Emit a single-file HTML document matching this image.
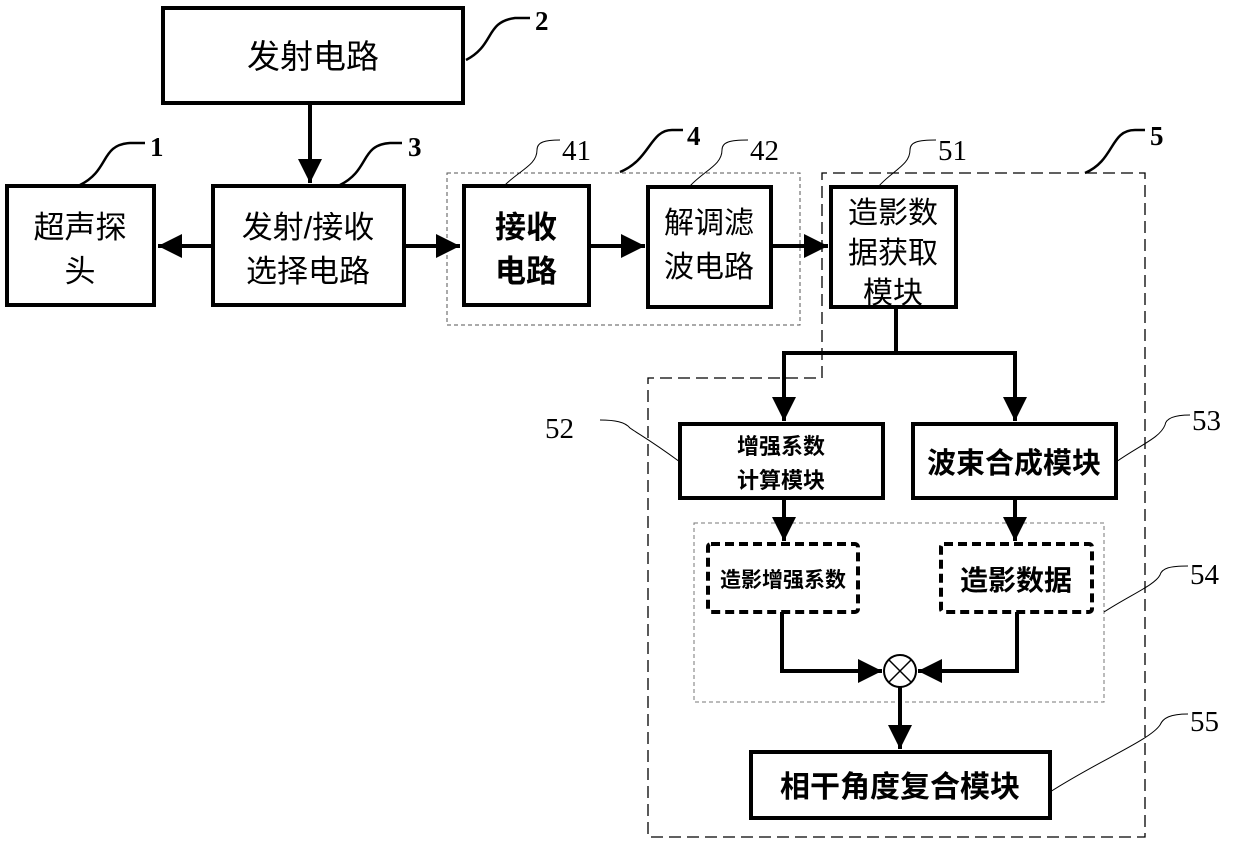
<!DOCTYPE html>
<html><head><meta charset="utf-8"><style>
html,body{margin:0;padding:0;background:#fff}
svg{display:block}
.t{font-family:"Liberation Sans","Noto Sans CJK SC",sans-serif;fill:#000;text-anchor:middle}
.n{font-family:"Liberation Serif",serif;fill:#000}
</style></head><body>
<svg width="1240" height="848" viewBox="0 0 1240 848" xmlns="http://www.w3.org/2000/svg">
<defs>
<marker id="a" viewBox="0 0 10 10" refX="10" refY="5" markerWidth="6" markerHeight="6" orient="auto" markerUnits="strokeWidth"><path d="M0,0L10,5L0,10z" fill="#000"/></marker>
</defs>
<g fill="none" stroke="#000">
<rect x="447" y="173" width="353" height="152" stroke-width="1" stroke-dasharray="4,3" stroke="#555"/>
<path d="M822,378V173H1145V837H648V378H822" stroke-width="1.3" stroke-dasharray="12,6"/>
<rect x="694" y="523" width="410" height="179" stroke-width="1" stroke-dasharray="4,3" stroke="#777"/>
<g stroke-width="4">
<rect x="163" y="8" width="300" height="95"/>
<rect x="7" y="186" width="147" height="119"/>
<rect x="213" y="186" width="191" height="119"/>
<rect x="464" y="186" width="125" height="119"/>
<rect x="648" y="187" width="123" height="120"/>
<rect x="831" y="187" width="125" height="120"/>
<rect x="680" y="424" width="203" height="74"/>
<rect x="913" y="424" width="203" height="74"/>
<rect x="751" y="752" width="299" height="66"/>
</g>
<rect x="708" y="544" width="150" height="68" stroke-width="4" stroke-dasharray="9,5" rx="3"/>
<rect x="941" y="544" width="151" height="68" stroke-width="4" stroke-dasharray="9,5" rx="3"/>
<circle cx="900" cy="671" r="16" stroke-width="2"/>
<path d="M889,660L911,682M911,660L889,682" stroke-width="1.5"/>
<g stroke-width="4">
<path d="M310,103V183" marker-end="url(#a)"/>
<path d="M213,246H158" marker-end="url(#a)"/>
<path d="M404,246H460" marker-end="url(#a)"/>
<path d="M589,246H645" marker-end="url(#a)"/>
<path d="M771,246H828" marker-end="url(#a)"/>
<path d="M896,307V353"/>
<path d="M782,353H1015"/>
<path d="M784,353V421" marker-end="url(#a)"/>
<path d="M1015,351V421" marker-end="url(#a)"/>
<path d="M784,498V541" marker-end="url(#a)"/>
<path d="M1015,498V541" marker-end="url(#a)"/>
<path d="M782,612V671H882" marker-end="url(#a)"/>
<path d="M1017,612V671H918" marker-end="url(#a)"/>
<path d="M900,687V749" marker-end="url(#a)"/>
</g>
<g stroke-width="2.5">
<path d="M466,60C495,45 485,22 515,18H530"/>
<path d="M80,185C110,170 100,145 130,143H145"/>
<path d="M340,185C370,170 360,145 390,143H402"/>
<path d="M620,172C650,160 650,130 672,130H683"/>
<path d="M1085,173C1115,160 1110,130 1135,130H1145"/>
</g>
<g stroke-width="1">
<path d="M505,185C520,170 537,165 537,150C537,142 545,140 560,140"/>
<path d="M690,186C705,170 722,165 722,150C722,142 730,140 748,140"/>
<path d="M878,187C893,170 910,165 910,150C910,142 918,140 936,140"/>
<path d="M680,462C650,440 640,435 630,428C625,422 615,420 600,420"/>
<path d="M1116,462C1140,445 1160,438 1165,425C1166,418 1175,415 1190,415"/>
<path d="M1104,612C1130,595 1155,585 1160,575C1162,568 1170,566 1188,566"/>
<path d="M1050,792C1100,760 1150,740 1160,725C1163,718 1170,714 1188,714"/>
</g>
</g>
<text class="t" x="313" y="68" font-size="33">发射电路</text>
<text class="t" x="80" y="238" font-size="31">超声探</text>
<text class="t" x="80" y="282" font-size="31">头</text>
<text class="t" x="308" y="238" font-size="31">发射/接收</text>
<text class="t" x="308" y="282" font-size="31">选择电路</text>
<text class="t" x="526" y="238" font-size="31" font-weight="bold">接收</text>
<text class="t" x="526" y="282" font-size="31" font-weight="bold">电路</text>
<text class="t" x="709" y="233" font-size="30">解调滤</text>
<text class="t" x="709" y="277" font-size="30">波电路</text>
<text class="t" x="893" y="223" font-size="30">造影数</text>
<text class="t" x="893" y="263" font-size="30">据获取</text>
<text class="t" x="893" y="303" font-size="30">模块</text>
<text class="t" x="781" y="454" font-size="22" font-weight="bold">增强系数</text>
<text class="t" x="781" y="488" font-size="22" font-weight="bold">计算模块</text>
<text class="t" x="1014" y="473" font-size="29" font-weight="bold">波束合成模块</text>
<text class="t" x="783" y="587" font-size="21" font-weight="bold">造影增强系数</text>
<text class="t" x="1016" y="590" font-size="28" font-weight="bold">造影数据</text>
<text class="t" x="900" y="797" font-size="30" font-weight="bold">相干角度复合模块</text>
<text class="n" x="535" y="30" font-size="27" font-weight="bold">2</text>
<text class="n" x="150" y="156" font-size="27" font-weight="bold">1</text>
<text class="n" x="408" y="156" font-size="27" font-weight="bold">3</text>
<text class="n" x="562" y="160" font-size="29">41</text>
<text class="n" x="687" y="145" font-size="27" font-weight="bold">4</text>
<text class="n" x="750" y="160" font-size="29">42</text>
<text class="n" x="938" y="160" font-size="29">51</text>
<text class="n" x="1150" y="145" font-size="27" font-weight="bold">5</text>
<text class="n" x="545" y="438" font-size="29">52</text>
<text class="n" x="1192" y="430" font-size="29">53</text>
<text class="n" x="1190" y="584" font-size="29">54</text>
<text class="n" x="1190" y="731" font-size="29">55</text>
</svg>
</body></html>
